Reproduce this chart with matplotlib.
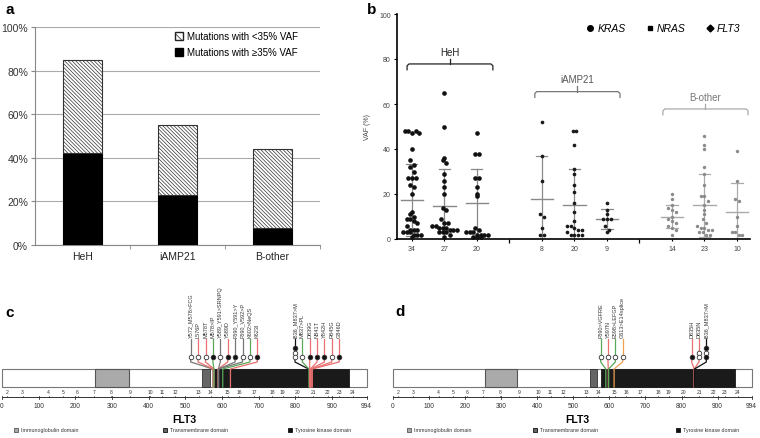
import numpy as np
import matplotlib
matplotlib.use('Agg')
import matplotlib.pyplot as plt
from matplotlib.patches import Rectangle, Patch
from matplotlib.lines import Line2D

plt.rcParams['font.family'] = ['Liberation Sans', 'DejaVu Sans']
plt.rcParams['hatch.linewidth'] = 0.5

W, H = 760, 439

# ---- panel a: share of patients with mutations
groups = ['HeH', 'iAMP21', 'B-other']
pct_high = [42, 23, 8]    # mutations with >=35% VAF
pct_low = [43, 32, 36]    # mutations with <35% VAF

# ---- panel b: VAF per gene / group
col_pos = [0, 1, 2, 4, 5, 6, 8, 9, 10]
col_group = [0, 0, 0, 1, 1, 1, 2, 2, 2]
col_n = [34, 27, 20, 8, 20, 9, 14, 23, 10]
vaf_cols = [
    [48, 48, 47, 48, 47, 40, 35, 33, 32, 30, 27, 27, 27, 24, 23, 20, 12, 11, 10,
     9, 9, 8, 7, 6, 4, 4, 4, 3, 3, 3, 2, 2, 2, 1],
    [65, 50, 36, 35, 34, 29, 26, 23, 20, 14, 13, 9, 7, 7, 6, 6, 5, 5, 5, 4, 4,
     4, 3, 3, 3, 2, 1],
    [47, 38, 38, 27, 27, 23, 20, 19, 5, 4, 3, 3, 3, 2, 2, 2, 2, 1, 1, 1],
    [52, 37, 26, 11, 10, 5, 2, 2],
    [48, 48, 42, 31, 29, 24, 21, 16, 12, 8, 6, 6, 5, 4, 4, 3, 2, 2, 2, 2],
    [16, 13, 11, 9, 9, 9, 6, 4, 3],
    [20, 18, 15, 14, 13, 12, 10, 9, 8, 7, 6, 5, 4, 2],
    [46, 42, 40, 32, 29, 24, 19, 19, 17, 15, 13, 11, 9, 7, 6, 5, 5, 4, 4, 3, 3, 2, 2],
    [39, 26, 18, 17, 10, 6, 3, 3, 2, 2],
]
vaf_mean = [17.5, 14.5, 16, 18, 15, 9, 10, 15, 12]
vaf_sd = [16, 16.5, 15, 19, 16, 4.5, 5, 14, 13]

# ---- panels c/d: FLT3 protein
flt3_len = 994
dom_ig = (254, 345)
dom_tm = (546, 566)
dom_tk = (578, 947)
exon_num = list(range(2, 25))
exon_pos = [13, 56, 127, 166, 206, 250, 298, 349, 404, 437, 473, 536, 569, 615,
            647, 687, 736, 765, 806, 849, 888, 920, 956]

c1_labels = ['Y572_M578>FCG', 'L576P', 'M578T', 'M578>IP', 'Y589_Y591>SRNPQ', 'Y589D',
             'F590_Y591>Y', 'F590_V592>P', 'K602>NeQS', 'K623I']
c1_pos = [575, 576, 578, 578, 590, 589, 590, 591, 602, 623]
c1_col = ['k', 'r', 'r', 'g', 'k', 'r', 'k', 'k', 'g', 'r']
c1_stack = ['o', 'o', 'o', 'f', 'o', 'f', 'f', 'o', 'o', 'f']

c2_labels = ['I836_M837>M', 'M837>PL', 'D839G', 'N841T', 'Y842H', 'R845G', 'G846D']
c2_pos = [836, 837, 839, 841, 842, 845, 846]
c2_col = ['b', 'g', 'r', 'r', 'r', 'r', 'r']
c2_stack = ['foo', 'o', 'f', 'f', 'f', 'o', 'f']

d1_labels = ['F590>VGFRE', 'Y597N', 'E598>LEFGP', 'G613>E14splice']
d1_pos = [590, 597, 598, 613]
d1_col = ['g', 'r', 'g', 'y']
d1_stack = ['o', 'o', 'o', 'o']

d2_labels = ['D835H', 'D835N', 'I836_M837>M']
d2_pos = [835, 835, 836]
d2_col = ['r', 'r', 'b']
d2_stack = ['f', 'oo', 'fof']

stem_colors = {'r': '#e8706e', 'g': '#5aa85a', 'k': '#777777', 'b': '#111111', 'y': '#f0a050'}

fig = plt.figure(figsize=(W / 100, H / 100), dpi=100)


def px_axes(x0, y0, x1, y1):
    return fig.add_axes([x0 / W, 1 - y1 / H, (x1 - x0) / W, (y1 - y0) / H])


# ================= a =================
HATCH = '\\' * 9
ax = px_axes(35, 28, 320, 246)
x = np.arange(len(groups))
high = np.array(pct_high) / 100
low = np.array(pct_low) / 100
ax.bar(x, high, width=0.41, color='black', edgecolor='black', linewidth=0.8, zorder=3)
ax.bar(x, low, bottom=high, width=0.41, color='white', edgecolor='#333', hatch=HATCH,
       linewidth=0.8, zorder=3)
ax.set_xlim(-0.5, 2.5)
ax.set_ylim(0, 1.0)
ax.set_yticks(np.arange(0, 1.01, 0.2))
ax.set_yticklabels([f'{int(round(v * 100))}%' for v in np.arange(0, 1.01, 0.2)], fontsize=7.5, color='#333')
ax.set_xticks(x)
ax.set_xticklabels(groups, fontsize=7.5, color='#222')
ax.set_xticks([0.5, 1.5, 2.5], minor=True)
ax.tick_params(axis='x', which='major', length=0, pad=4)
ax.tick_params(axis='x', which='minor', length=3, color='#888')
ax.tick_params(axis='y', length=3, color='#888', pad=2)
ax.grid(axis='y', color='#aaa', lw=0.8, zorder=0)
for s in ['top', 'right']:
    ax.spines[s].set_visible(False)
for s in ['left', 'bottom']:
    ax.spines[s].set_color('#888')
handles = [Patch(facecolor='white', edgecolor='#222', hatch='\\\\\\\\', label='Mutations with <35% VAF'),
           Patch(facecolor='black', edgecolor='black', label='Mutations with \u226535% VAF')]
ax.legend(handles=handles, loc='upper left', bbox_to_anchor=(0.46, 1.02), frameon=False,
          fontsize=7, handlelength=0.8, handleheight=0.8, handletextpad=0.4, labelspacing=0.6)
fig.text(5 / W, 1 - 10 / H, 'a', fontsize=11, fontweight='bold', va='center')


# ================= b =================
def swarm(vals, width=0.11, binsize=2.6):
    vals = np.asarray(vals, float)
    off = np.zeros(len(vals))
    keys = np.round(vals / binsize).astype(int)
    for k in np.unique(keys):
        idx = np.where(keys == k)[0]
        n = len(idx)
        off[idx] = (np.arange(n) - (n - 1) / 2) * width
    return off


ax = px_axes(397, 15, 750, 240)
pt_color = ['#111111', '#1a1a1a', '#8a8a8a']
pt_size = [11, 7, 6]
err_color = ['#888888', '#8a8a8a', '#aaaaaa']
for i, vals in enumerate(vaf_cols):
    g = col_group[i]
    xp = col_pos[i]
    ax.scatter(xp + swarm(vals), vals, s=pt_size[g], color=pt_color[g], lw=0, zorder=3)
    m, sd = vaf_mean[i], vaf_sd[i]
    lo, hi = max(m - sd, 0), m + sd
    ax.plot([xp - 0.34, xp + 0.34], [m, m], color=err_color[g], lw=1.0, zorder=2)
    ax.plot([xp, xp], [lo, hi], color=err_color[g], lw=0.9, zorder=2)
    ax.plot([xp - 0.17, xp + 0.17], [hi, hi], color=err_color[g], lw=0.9, zorder=2)
    if m - sd > 0:
        ax.plot([xp - 0.17, xp + 0.17], [lo, lo], color=err_color[g], lw=0.9, zorder=2)

# group brackets
brackets = [(-0.15, 2.49, 77.8, 'HeH', '#222222', '#222222'),
            (3.78, 6.40, 65.5, 'iAMP21', '#777777', '#555555'),
            (7.72, 10.34, 57.8, 'B-other', '#aaaaaa', '#777777')]
for x0, x1, yh, name, lc, tc in brackets:
    xc = (x0 + x1) / 2
    ax.plot([x0, x0, x0 + 0.06, x1 - 0.06, x1, x1], [yh - 2.6, yh - 0.8, yh, yh, yh - 0.8, yh - 2.6],
            color=lc, lw=0.9)
    ax.plot([xc, xc], [yh, yh + 2.4], color=lc, lw=0.9)
    ax.text(xc, yh + 5.5, name, ha='center', va='center', fontsize=7, color=tc)

ax.set_xlim(-0.46, 10.4)
ax.set_ylim(0, 100)
ax.set_yticks(range(0, 101, 20))
ax.tick_params(axis='y', labelsize=5, labelcolor='#444', length=2.5, width=0.8, pad=2)
ax.set_xticks(col_pos)
ax.set_xticklabels([str(n) for n in col_n], fontsize=5, color='#444')
ax.set_xticks([3, 7], minor=True)
ax.tick_params(axis='x', which='major', length=1.5, pad=3)
ax.tick_params(axis='x', which='minor', length=3, width=0.9)
for s in ['top', 'right']:
    ax.spines[s].set_visible(False)
ax.spines['left'].set_linewidth(1.2)
ax.spines['bottom'].set_linewidth(1.2)
ax.set_ylabel('VAF (%)', fontsize=5, color='#444', labelpad=6)
leg_handles = [Line2D([], [], marker='o', ls='', color='black', ms=4, label='KRAS'),
               Line2D([], [], marker='s', ls='', color='black', ms=3, label='NRAS'),
               Line2D([], [], marker='D', ls='', color='black', ms=3.5, label='FLT3')]
ax.legend(handles=leg_handles, loc='upper right', bbox_to_anchor=(1.0, 1.0), ncol=3, frameon=False,
          prop={'style': 'italic', 'size': 7.5}, handletextpad=0.2, columnspacing=1.8,
          handlelength=1.0)
fig.text(367 / W, 1 - 10 / H, 'b', fontsize=11, fontweight='bold', va='center')


# ================= c / d =================
def draw_flt3(px0, zero_px, scale, groups_spec, legend_px, title_px):
    ax = px_axes(px0, 280, px0 + 380, 439)
    to_d = lambda p: (p - zero_px) / scale
    ax.set_xlim(to_d(px0), to_d(px0 + 380))
    ax.set_ylim(439, 280)
    ax.axis('off')
    # protein bar and domains
    ax.add_patch(Rectangle((0, 370), flt3_len, 18, fc='white', ec='#777', lw=0.8, zorder=1))
    ax.add_patch(Rectangle((dom_ig[0], 370), dom_ig[1] - dom_ig[0], 18, fc='#aaaaaa', ec='#555', lw=0.8, zorder=2))
    ax.add_patch(Rectangle((dom_tm[0], 370), dom_tm[1] - dom_tm[0], 18, fc='#666666', ec='#333', lw=0.6, zorder=2))
    ax.add_patch(Rectangle((dom_tk[0], 370), dom_tk[1] - dom_tk[0], 18, fc='#1a1a1a', ec='#1a1a1a', lw=0.6, zorder=2))
    # ruler
    ax.plot([0, flt3_len], [398, 398], color='#333', lw=0.7)
    ticks = list(range(0, 1000, 100)) + [flt3_len]
    for t in ticks:
        ax.plot([t, t], [396.5, 400], color='#333', lw=0.6)
        ax.text(t, 407, str(t), ha='center', va='center', fontsize=4.8, color='#333')
    for n, p in zip(exon_num, exon_pos):
        ax.plot([p, p], [396.5, 398], color='#333', lw=0.5)
        ax.text(p, 392.5, str(n), ha='center', va='center', fontsize=3.6, color='#333')
    ax.text(to_d(title_px), 420, 'FLT3', ha='center', va='center', fontsize=7.5, fontweight='bold')
    # legend
    leg_style = [('#aaaaaa', '#555'), ('#666666', '#111'), ('#111111', '#111')]
    leg_text = ['Immunoglobulin domain', 'Transmembrane domain', 'Tyrosine kinase domain']
    for (fc, ec), txt, lx in zip(leg_style, leg_text, legend_px):
        ax.plot(to_d(lx), 431, marker='s', ms=3, mfc=fc, mec=ec, mew=0.6, ls='')
        ax.text(to_d(lx + 5), 431, txt, ha='left', va='center', fontsize=3.8, color='#333')
    # mutations
    for start_px, step_px, labels, pos, cols, stacks in groups_spec:
        for i in range(len(labels)):
            mx = to_d(start_px + i * step_px)
            c = stem_colors[cols[i]]
            st = stacks[i]
            ys = [358 - 4.5 * j for j in range(len(st))][::-1]
            for y, s in zip(ys, st):
                ax.plot(mx, y, marker='o', ms=3.3, mfc='#111' if s == 'f' else 'white',
                        mec='#333', mew=0.6, ls='', zorder=5)
            ax.plot([mx, mx], [340, ys[0] - 2], color=c, lw=0.9, zorder=3)
            ax.text(mx, 338, labels[i], rotation=90, ha='center', va='bottom', fontsize=4, color='#333')
            ax.plot([mx, mx, pos[i], pos[i]], [360, 363, 370, 388], color=c, lw=0.9, zorder=4)
    return ax


draw_flt3(0, 2, 364.5 / 994,
          [(190.7, 7.4, c1_labels, c1_pos, c1_col, c1_stack),
           (295.0, 7.35, c2_labels, c2_pos, c2_col, c2_stack)],
          [16, 165, 290], 184)
fig.text(5 / W, 1 - 313 / H, 'c', fontsize=11, fontweight='bold', va='center')

draw_flt3(380, 393, 358.5 / 994,
          [(600.7, 7.3, d1_labels, d1_pos, d1_col, d1_stack),
           (691.7, 7.3, d2_labels, d2_pos, d2_col, d2_stack)],
          [409, 535, 678], 577)
fig.text(395 / W, 1 - 312 / H, 'd', fontsize=11, fontweight='bold', va='center')

fig.savefig('out.png', dpi=100)
